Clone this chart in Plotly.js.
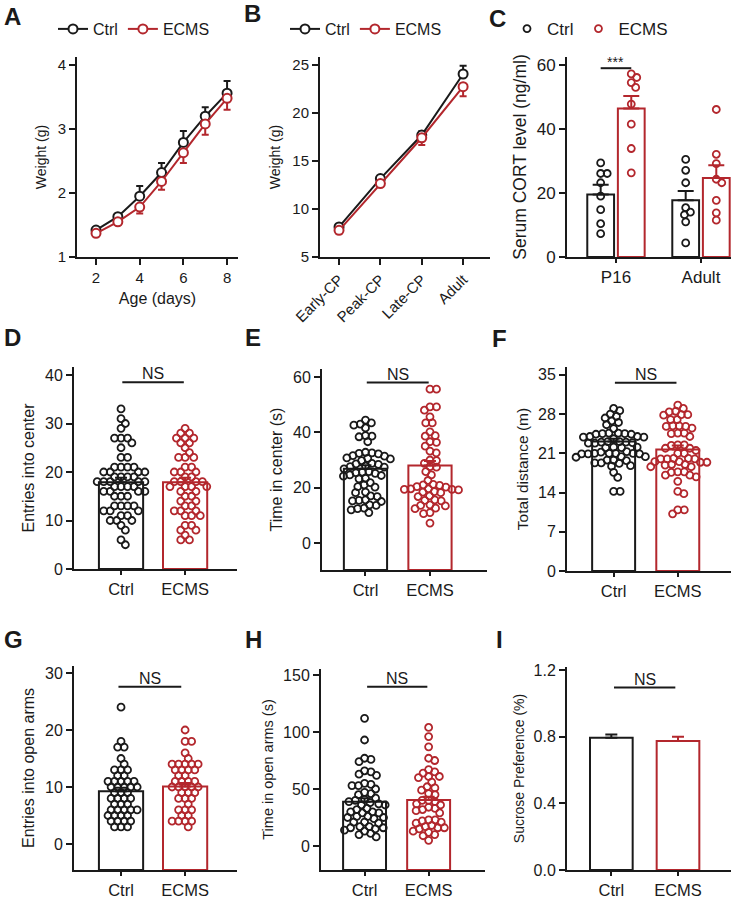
<!DOCTYPE html>
<html>
<head>
<meta charset="utf-8">
<script src="https://cdn.plot.ly/plotly-3.0.1.min.js"></script>
<style>
  html, body { margin: 0; padding: 0; background: #fff; }
  #fig { width: 731px; height: 900px; }
</style>
</head>
<body>
<div id="fig"></div>
<script>
// ---- data ----
var ageDays = [2, 3, 4, 5, 6, 7, 8];
var ctrlWeight = [1.42, 1.63, 1.95, 2.32, 2.79, 3.20, 3.56];
var ctrlWeightErr = [0.03, 0.04, 0.16, 0.15, 0.18, 0.14, 0.19];
var ecmsWeight = [1.37, 1.55, 1.78, 2.18, 2.63, 3.08, 3.48];
var ecmsWeightErr = [0.03, 0.03, 0.10, 0.13, 0.16, 0.17, 0.18];

var stages = ['Early-CP', 'Peak-CP', 'Late-CP', 'Adult'];
var ctrlStageWeight = [8.13, 13.17, 17.7, 24.06];
var ctrlStageErr = [0.3, 0.3, 0.4, 0.85];
var ecmsStageWeight = [7.78, 12.65, 17.42, 22.74];
var ecmsStageErr = [0.3, 0.3, 0.75, 1.0];

var cortGroups = ['P16', 'Adult'];
var ctrlCortP16 = [29.4, 26.1, 26.1, 23.2, 19.0, 14.8, 10.4, 7.3];
var ecmsCortP16 = [57.2, 56.1, 54.5, 53.0, 47.8, 41.5, 33.9, 26.3];
var ctrlCortAdult = [30.5, 27.1, 23.2, 15.4, 14.0, 13.2, 11.0, 4.4];
var ecmsCortAdult = [46.1, 32.1, 29.2, 24.3, 23.2, 17.7, 13.8, 11.5];
var ctrlCortMean = [19.5, 17.7];
var ctrlCortErr = [3.1, 2.9];
var ecmsCortMean = [46.4, 24.7];
var ecmsCortErr = [3.9, 4.0];

var groups = ['Ctrl', 'ECMS'];

var ctrlEntries = [33, 31, 30, 29, 27, 27, 27, 26, 25, 23, 23, 21, 21, 21, 21, 20, 20, 20, 20, 19, 19, 19, 19,
  18, 18, 18, 18, 18, 17, 17, 17, 17, 16, 16, 16, 16, 15, 15, 15, 13, 13, 13, 13, 12, 12, 12, 11, 11,
  10, 10, 10, 9, 8, 6, 5];
var ecmsEntries = [29, 28, 28, 27, 27, 27, 26, 26, 25, 24, 23, 23, 23, 21, 21, 20, 20, 20, 19, 19, 18, 18, 18, 18,
  17, 17, 17, 17, 16, 16, 15, 15, 14, 14, 13, 13, 12, 12, 12, 11, 11, 11, 9, 9, 8, 8, 7, 6, 6];
var entriesMean = [17.9, 17.9];
var entriesErr = [0.9, 0.9];

var ctrlCenterTime = [44.4, 43.4, 43, 42.6, 41.6, 38.8, 38.6, 38.4, 36.6, 32.8, 32.6, 32.4, 32.2, 31.6, 31.4,
  30.8, 30.6, 30.4, 29.8, 28.8, 28.6, 28.4, 27.8, 27.6, 27.4, 26.8, 25.8, 25.6, 25.4, 25.2, 24.6, 24.4, 24.2,
  23.4, 23.2, 21.8, 21, 20.4, 20.2, 18.4, 18.2, 17, 16.8, 15.6, 15.4, 15.2, 15, 13.8, 13.6, 12.6, 12.4, 12, 11];
var ecmsCenterTime = [55.6, 55.6, 49.2, 49.2, 48, 45.6, 43.4, 43.4, 40.2, 38.8, 38.6, 36.6, 36.4, 35, 33.2, 32.6,
  30, 29.8, 28.8, 27.6, 27.4, 25.8, 24.6, 22.6, 21.2, 21, 20.8, 20.4, 20.2, 19.6, 19.6, 19.4, 19.4, 19.2, 18.6,
  18.4, 18.2, 17, 16.8, 15.6, 15.4, 15.2, 13.8, 13.6, 13.4, 12.6, 12.4, 11, 10.6, 7.2];
var centerTimeMean = [26.8, 28.0];
var centerTimeErr = [1.3, 1.6];

var ctrlDistance = [29.0, 28.6, 28.0, 27.6, 27.3, 26.8, 26.5, 26.1, 25.4, 24.6, 24.6, 24.5, 24.5, 24.4, 24.4,
  24.0, 24.0, 23.9, 23.9, 23.6, 23.1, 23.1, 23.0, 23.0, 22.9, 22.8, 22.8, 22.1, 22.1, 22.0, 22.0, 21.3, 21.2,
  21.0, 21.0, 21.0, 21.0, 20.9, 20.9, 20.9, 20.4, 20.4, 20.3, 19.8, 19.8, 19.7, 19.3, 19.3, 19.2, 18.8, 18.7,
  17.6, 16.7, 14.2, 14.2];
var ecmsDistance = [29.6, 29.0, 28.5, 28.4, 27.9, 27.9, 27.8, 27.0, 27.0, 25.9, 25.9, 25.8, 25.8, 25.5, 24.6,
  24.6, 24.5, 24.0, 22.5, 22.5, 22.4, 21.9, 21.9, 21.5, 21.0, 21.0, 20.1, 20.1, 20.0, 20.0, 20.0, 19.5, 19.5,
  19.4, 19.4, 19.0, 19.0, 18.9, 18.6, 18.6, 17.7, 17.7, 17.6, 17.1, 17.1, 16.8, 16.0, 14.2, 13.8, 10.9, 10.9, 10.2];
var distanceMean = [23.1, 21.7];
var distanceErr = [0.5, 0.7];

var ctrlOpenEntries = [24, 18, 17, 17, 15, 14, 13, 13, 13, 12, 12, 11, 11, 11, 11, 11, 10, 10, 10, 10, 10,
  9, 9, 9, 8, 8, 8, 8, 7, 7, 7, 6, 6, 6, 6, 6, 5, 5, 5, 5, 4, 4, 4, 4, 3, 3, 3];
var ecmsOpenEntries = [20, 18, 18, 16, 15, 14, 14, 14, 14, 14, 13, 13, 13, 13, 12, 12, 11, 11, 11, 11,
  10, 10, 10, 10, 10, 9, 9, 9, 8, 8, 8, 7, 6, 6, 6, 5, 5, 4, 4, 4, 4, 3];
var openEntriesMean = [9.25, 10.1];
var openEntriesErr = [0.6, 0.6];

var ctrlOpenTime = [112, 93, 77, 76, 74, 66, 65, 63, 62, 55, 54, 53, 53, 50, 47, 46, 45, 42, 41, 40, 39, 38,
  37, 36, 36, 33, 32, 30, 30, 29, 29, 26, 26, 25, 25, 24, 21, 21, 20, 17, 17, 16, 16, 15, 14, 13, 11, 10, 8];
var ecmsOpenTime = [104, 96, 87, 77, 75, 67, 65, 64, 61, 61, 60, 56, 52, 51, 49, 46, 45, 40, 40, 39, 37, 36,
  34, 33, 32, 31, 29, 23, 23, 22, 21, 20, 18, 17, 16, 16, 15, 13, 12, 10, 9, 5];
var openTimeMean = [38.9, 40.3];
var openTimeErr = [3.0, 3.0];

var sucroseMean = [0.793, 0.774];
var sucroseErr = [0.02, 0.025];

// ---- style ----
var FONT = 'Liberation Sans, Arial, sans-serif';
var INK = '#1a1a1a';
var RED = '#b3272d';
var W = 731, H = 900;
var DOT = 6.5; // px spacing for the swarm

// panel boxes in pixels + axis ranges
var geo = {
  A: { x: [77, 238], y: [57, 257], xr: [1.13, 8.5], yr: [1, 4.125] },
  B: { x: [320, 490], y: [57, 257], xr: [-0.46, 3.65], yr: [5, 25.83] },
  C: { x: [567, 731], y: [57, 257], xr: [-0.576, 1.353], yr: [0, 62.5] },
  D: { x: [74, 237], y: [367, 569], xr: [-0.734, 1.81], yr: [0, 41.65] },
  E: { x: [322, 487], y: [369, 570], xr: [-0.674, 1.884], yr: [-9.76, 62.9] },
  F: { x: [567, 731], y: [367, 571], xr: [-0.727, 1.83], yr: [0, 36.4] },
  G: { x: [74, 237], y: [666, 870], xr: [-0.734, 1.81], yr: [-4.56, 31.23] },
  H: { x: [321, 485], y: [669, 870], xr: [-0.68, 1.88], yr: [-21.05, 155.3] },
  I: { x: [567, 731], y: [667, 870], xr: [-0.665, 1.795], yr: [0, 1.218] }
};

var axId = function(n) { return n === 1 ? '' : String(n); };

var pxScale = function(g) {
  return {
    x: (g.x[1] - g.x[0]) / (g.xr[1] - g.xr[0]),
    y: (g.y[1] - g.y[0]) / (g.yr[1] - g.yr[0])
  };
};

// simple beeswarm: returns x positions (data units) around `center`
var swarm = function(values, center, sx, sy, diam) {
  var order = values.map(function(v, i) { return i; });
  order.sort(function(a, b) { return values[b] - values[a]; });
  var placed = [];
  var xs = new Array(values.length);
  order.forEach(function(i) {
    var y = values[i] * sy;
    var cands = [0];
    placed.forEach(function(p) {
      var dy = y - p.y;
      if (Math.abs(dy) < diam) {
        var dx = Math.sqrt(diam * diam - dy * dy);
        cands.push(p.x + dx, p.x - dx);
      }
    });
    cands.sort(function(a, b) { return Math.abs(a) - Math.abs(b); });
    var x = 0;
    for (var k = 0; k < cands.length; k++) {
      var c = cands[k];
      var ok = placed.every(function(p) {
        return (c - p.x) * (c - p.x) + (y - p.y) * (y - p.y) >= diam * diam - 1e-6;
      });
      if (ok) { x = c; break; }
    }
    placed.push({ x: x, y: y });
    xs[i] = center + x / sx;
  });
  return xs;
};

var barTrace = function(n, x, mean, base, width, color) {
  return {
    type: 'bar', x: [x], y: [mean - base], base: [base], width: [width],
    marker: { color: 'white', line: { color: color, width: 2 } },
    xaxis: 'x' + axId(n), yaxis: 'y' + axId(n), showlegend: false, hoverinfo: 'skip'
  };
};

var errTrace = function(n, x, mean, err, color, capw) {
  return {
    type: 'scatter', mode: 'markers', x: [x], y: [mean],
    marker: { size: 1, opacity: 0 },
    error_y: { type: 'data', symmetric: false, array: [err], arrayminus: [0],
      color: color, thickness: 2, width: capw },
    xaxis: 'x' + axId(n), yaxis: 'y' + axId(n), showlegend: false, hoverinfo: 'skip'
  };
};

var dotTrace = function(n, xs, ys, color, name, legend) {
  return {
    type: 'scatter', mode: 'markers', x: xs, y: ys, name: name,
    marker: { symbol: 'circle-open', size: 7, color: color, line: { width: 1.8 } },
    xaxis: 'x' + axId(n), yaxis: 'y' + axId(n),
    showlegend: !!legend, legend: legend, hoverinfo: 'skip'
  };
};

// two-bar panel with dots
var barPanel = function(n, g, ctrl, ecms, means, errs, bw, capw) {
  var s = pxScale(g);
  var base = g.yr[0];
  var out = [
    barTrace(n, 0, means[0], base, bw, INK),
    barTrace(n, 1, means[1], base, bw, RED)
  ];
  if (ctrl.length) out.push(dotTrace(n, swarm(ctrl, 0, s.x, s.y, DOT), ctrl, INK));
  if (ecms.length) out.push(dotTrace(n, swarm(ecms, 1, s.x, s.y, DOT), ecms, RED));
  out.push(errTrace(n, 0, means[0], errs[0], INK, capw));
  out.push(errTrace(n, 1, means[1], errs[1], RED, capw));
  return out;
};

var lineTrace = function(n, x, y, err, up, color, name, legend) {
  return {
    type: 'scatter', mode: 'lines+markers', x: x, y: y, name: name,
    line: { color: color, width: 2 },
    marker: { symbol: 'circle', size: 9, color: 'white', line: { color: color, width: 2 } },
    error_y: { type: 'data', symmetric: false,
      array: up ? err : [], arrayminus: up ? [] : err,
      color: color, thickness: 2, width: 3.5 },
    xaxis: 'x' + axId(n), yaxis: 'y' + axId(n), legend: legend, hoverinfo: 'skip'
  };
};

var data = [];

// A
data.push(lineTrace(1, ageDays, ctrlWeight, ctrlWeightErr, true, INK, 'Ctrl', 'legend'));
data.push(lineTrace(1, ageDays, ecmsWeight, ecmsWeightErr, false, RED, 'ECMS', 'legend'));
// B
data.push(lineTrace(2, stages, ctrlStageWeight, ctrlStageErr, true, INK, 'Ctrl', 'legend2'));
data.push(lineTrace(2, stages, ecmsStageWeight, ecmsStageErr, false, RED, 'ECMS', 'legend2'));

// C: grouped bars P16 / Adult
(function() {
  var g = geo.C, s = pxScale(g), off = 0.18, bw = 0.315;
  var ctrlSets = [ctrlCortP16, ctrlCortAdult];
  var ecmsSets = [ecmsCortP16, ecmsCortAdult];
  var cx = [], cy = [], ex = [], ey = [];
  cortGroups.forEach(function(name, i) {
    data.push(barTrace(3, i - off, ctrlCortMean[i], 0, bw, INK));
    data.push(barTrace(3, i + off, ecmsCortMean[i], 0, bw, RED));
    cx = cx.concat(swarm(ctrlSets[i], i - off, s.x, s.y, DOT));
    cy = cy.concat(ctrlSets[i]);
    ex = ex.concat(swarm(ecmsSets[i], i + off, s.x, s.y, DOT));
    ey = ey.concat(ecmsSets[i]);
  });
  data.push(dotTrace(3, cx, cy, INK, 'Ctrl', 'legend3'));
  data.push(dotTrace(3, ex, ey, RED, 'ECMS', 'legend3'));
  cortGroups.forEach(function(name, i) {
    data.push(errTrace(3, i - off, ctrlCortMean[i], ctrlCortErr[i], INK, 8));
    data.push(errTrace(3, i + off, ecmsCortMean[i], ecmsCortErr[i], RED, 8));
  });
})();

data = data.concat(barPanel(4, geo.D, ctrlEntries, ecmsEntries, entriesMean, entriesErr, 0.69, 6));
data = data.concat(barPanel(5, geo.E, ctrlCenterTime, ecmsCenterTime, centerTimeMean, centerTimeErr, 0.67, 6));
data = data.concat(barPanel(6, geo.F, ctrlDistance, ecmsDistance, distanceMean, distanceErr, 0.67, 6));
data = data.concat(barPanel(7, geo.G, ctrlOpenEntries, ecmsOpenEntries, openEntriesMean, openEntriesErr, 0.69, 6));
data = data.concat(barPanel(8, geo.H, ctrlOpenTime, ecmsOpenTime, openTimeMean, openTimeErr, 0.67, 6));
data = data.concat(barPanel(9, geo.I, [], [], sucroseMean, sucroseErr, 0.64, 6));

// ---- axes ----
var axisBase = function(extra) {
  var a = {
    showline: true, linewidth: 2, linecolor: INK,
    ticks: 'outside', ticklen: 6, tickwidth: 2, tickcolor: INK,
    showgrid: false, zeroline: false, fixedrange: true,
    tickfont: { family: FONT, size: 15, color: INK }
  };
  for (var k in extra) { if (extra.hasOwnProperty(k)) a[k] = extra[k]; }
  return a;
};

var ytitle = function(text, size, standoff) {
  return { text: text, font: { family: FONT, size: size, color: INK }, standoff: standoff };
};

var legendBox = function(x, size) {
  return { orientation: 'h', x: x / W, y: 1 - 29 / H, xanchor: 'left', yanchor: 'middle',
    font: { size: size, color: INK }, bgcolor: 'rgba(0,0,0,0)', itemwidth: 30 };
};

var layout = {
  width: W, height: H,
  margin: { l: 0, r: 0, t: 0, b: 0 },
  paper_bgcolor: 'white', plot_bgcolor: 'white',
  barmode: 'overlay', hovermode: false,
  font: { family: FONT, color: INK },
  legend: legendBox(53, 16),
  legend2: legendBox(285, 16),
  legend3: legendBox(507, 17),
  annotations: [],
  shapes: []
};

var panelKeys = ['A', 'B', 'C', 'D', 'E', 'F', 'G', 'H', 'I'];
panelKeys.forEach(function(key, i) {
  var n = i + 1, g = geo[key];
  layout['xaxis' + axId(n)] = axisBase({
    domain: [g.x[0] / W, g.x[1] / W], range: g.xr, anchor: 'y' + axId(n)
  });
  layout['yaxis' + axId(n)] = axisBase({
    domain: [1 - g.y[1] / H, 1 - g.y[0] / H], range: g.yr, anchor: 'x' + axId(n)
  });
});

// A
layout.xaxis.tickvals = [2, 4, 6, 8];
layout.xaxis.title = ytitle('Age (days)', 16, 8);
layout.yaxis.tickvals = [1, 2, 3, 4];
layout.yaxis.title = ytitle('Weight (g)', 14, 8);
// B
layout.xaxis2.type = 'category';
layout.xaxis2.tickangle = -45;
layout.yaxis2.tickvals = [5, 10, 15, 20, 25];
layout.yaxis2.title = ytitle('Weight (g)', 14, 8);
// C
layout.xaxis3.tickvals = [0, 1];
layout.xaxis3.ticktext = cortGroups;
layout.xaxis3.ticklen = 4;
layout.xaxis3.tickfont = { family: FONT, size: 17, color: INK };
layout.yaxis3.tickvals = [0, 20, 40, 60];
layout.yaxis3.tickfont = { family: FONT, size: 17, color: INK };
layout.yaxis3.title = ytitle('Serum CORT level (ng/ml)', 17.5, 6);

var barAxes = [
  [4, [0, 10, 20, 30, 40], 'Entries into center', 16],
  [5, [0, 20, 40, 60], 'Time in center (s)', 16],
  [6, [0, 7, 14, 21, 28, 35], 'Total distance (m)', 15.5],
  [7, [0, 10, 20, 30], 'Entries into open arms', 16],
  [8, [0, 50, 100, 150], 'Time in open arms (s)', 14.5],
  [9, [0, 0.4, 0.8, 1.2], 'Sucrose Preference (%)', 14]
];
barAxes.forEach(function(b) {
  var n = b[0];
  var xa = layout['xaxis' + n], ya = layout['yaxis' + n];
  xa.tickvals = [0, 1];
  xa.ticktext = groups;
  xa.ticklen = 4;
  xa.tickfont = { family: FONT, size: 16.5, color: INK };
  ya.tickvals = b[1];
  ya.tickfont = { family: FONT, size: 16, color: INK };
  ya.title = ytitle(b[2], b[3], 6);
});
layout.yaxis9.tickformat = '.1f';

// significance marks: [axis n, x0, x1, y, label]
var sigMarks = [
  [3, -0.18, 0.18, 59, '***'],
  [4, 0.02, 0.98, 38.5, 'NS'],
  [5, 0.02, 0.98, 58, 'NS'],
  [6, 0.02, 0.98, 33.6, 'NS'],
  [7, -0.04, 0.94, 27.6, 'NS'],
  [8, 0.04, 0.98, 139.8, 'NS'],
  [9, 0.04, 0.96, 1.095, 'NS']
];
sigMarks.forEach(function(m) {
  var xr = 'x' + m[0], yr = 'y' + m[0];
  layout.shapes.push({ type: 'line', xref: xr, yref: yr, x0: m[1], x1: m[2], y0: m[3], y1: m[3],
    line: { color: INK, width: 2 } });
  layout.annotations.push({ xref: xr, yref: yr, x: (m[1] + m[2]) / 2, y: m[3], text: m[4],
    showarrow: false, yanchor: 'bottom', yshift: m[4] === 'NS' ? -2 : -4,
    font: { family: FONT, size: m[4] === 'NS' ? 16 : 14, color: INK } });
});

// panel letters
var letters = [['A', 2, 17], ['B', 242, 14], ['C', 487, 18], ['D', 2, 337], ['E', 243, 337],
  ['F', 490, 338], ['G', 2, 639], ['H', 243, 639], ['I', 494, 639]];
letters.forEach(function(l) {
  layout.annotations.push({ xref: 'paper', yref: 'paper', x: l[1] / W, y: 1 - l[2] / H,
    xanchor: 'left', yanchor: 'middle', showarrow: false, text: '<b>' + l[0] + '</b>',
    font: { family: FONT, size: 24, color: INK } });
});

Plotly.newPlot('fig', data, layout, { displayModeBar: false, staticPlot: true });
</script>
</body>
</html>
